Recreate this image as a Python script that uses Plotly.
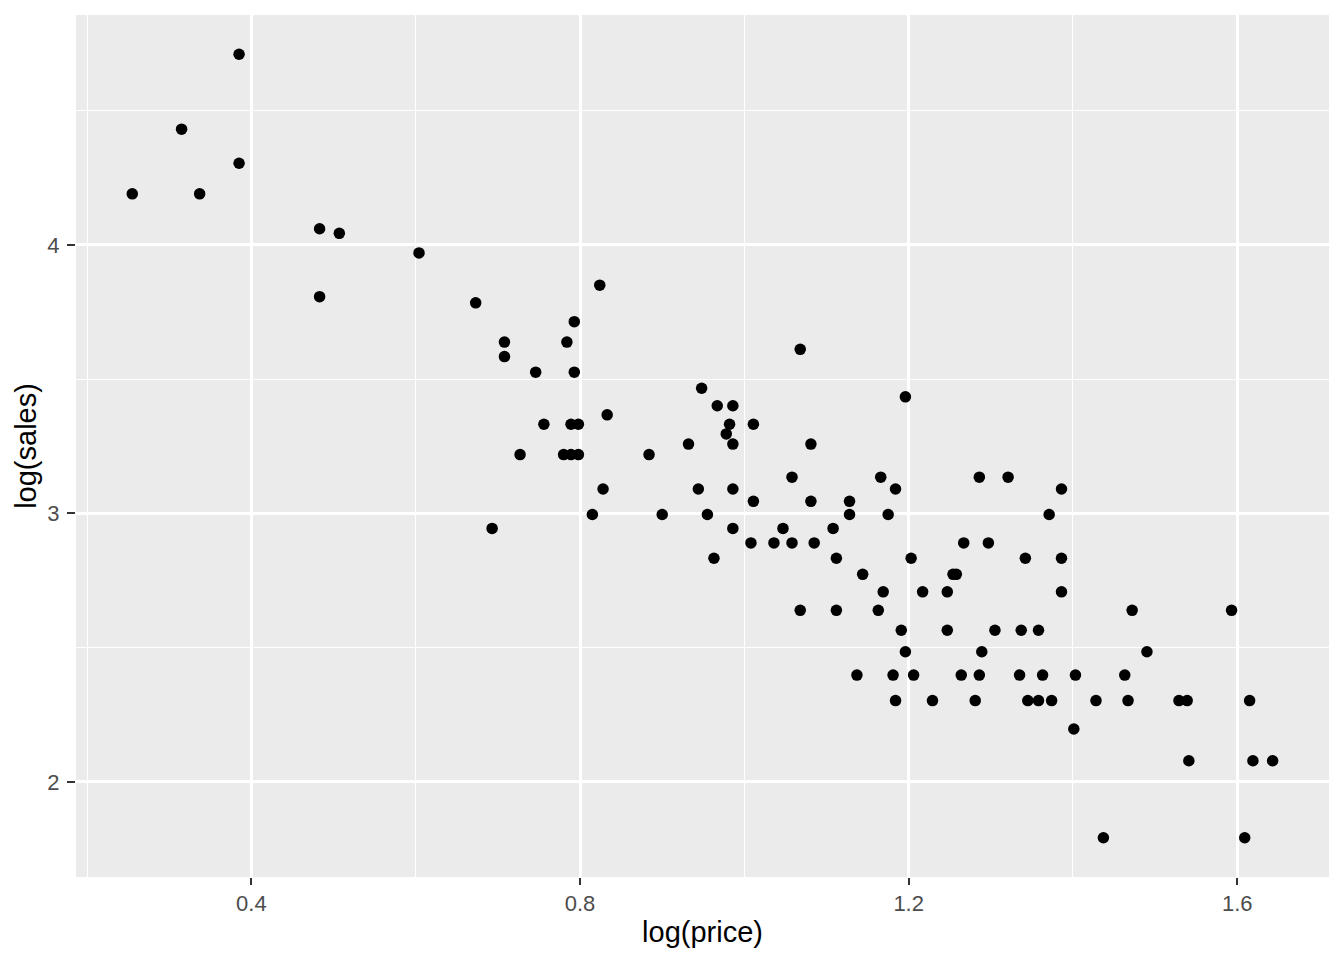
import plotly.graph_objects as go

# log(price) values
log_price = [
    0.255, 0.315, 0.337, 0.385, 0.385, 0.483, 0.483, 0.507, 0.604, 0.673,
    0.708, 0.708, 0.693, 0.727, 0.746, 0.756, 0.780, 0.784, 0.789, 0.789,
    0.793, 0.793, 0.798, 0.798, 0.815, 0.824, 0.828, 0.833, 0.884, 0.900,
    0.932, 0.944, 0.948, 0.955, 0.963, 0.967, 0.978, 0.982, 0.986, 0.986,
    0.986, 0.986, 1.008, 1.011, 1.011, 1.036, 1.047, 1.058, 1.058, 1.068,
    1.068, 1.081, 1.081, 1.085, 1.108, 1.112, 1.112, 1.128, 1.128, 1.137,
    1.144, 1.163, 1.166, 1.169, 1.175, 1.181, 1.184, 1.184, 1.191, 1.196,
    1.196, 1.203, 1.206, 1.217, 1.229, 1.247, 1.247, 1.254, 1.258, 1.264,
    1.267, 1.281, 1.286, 1.286, 1.289, 1.297, 1.305, 1.321, 1.335, 1.337,
    1.342, 1.345, 1.358, 1.358, 1.363, 1.371, 1.374, 1.386, 1.386, 1.386,
    1.401, 1.403, 1.428, 1.437, 1.463, 1.467, 1.472, 1.490, 1.529, 1.539,
    1.541, 1.593, 1.609, 1.615, 1.619, 1.643,
]

# log(sales) values
log_sales = [
    4.190, 4.431, 4.190, 4.710, 4.304, 4.060, 3.807, 4.043, 3.970, 3.784,
    3.638, 3.584, 2.944, 3.219, 3.526, 3.332, 3.219, 3.638, 3.219, 3.332,
    3.714, 3.526, 3.332, 3.219, 2.996, 3.850, 3.091, 3.367, 3.219, 2.996,
    3.258, 3.091, 3.466, 2.996, 2.833, 3.401, 3.296, 3.332, 3.401, 3.258,
    3.091, 2.944, 2.890, 3.332, 3.045, 2.890, 2.944, 3.135, 2.890, 3.611,
    2.639, 3.258, 3.045, 2.890, 2.944, 2.833, 2.639, 3.045, 2.996, 2.398,
    2.773, 2.639, 3.135, 2.708, 2.996, 2.398, 3.091, 2.303, 2.565, 3.434,
    2.485, 2.833, 2.398, 2.708, 2.303, 2.708, 2.565, 2.773, 2.773, 2.398,
    2.890, 2.303, 3.135, 2.398, 2.485, 2.890, 2.565, 3.135, 2.398, 2.565,
    2.833, 2.303, 2.565, 2.303, 2.398, 2.996, 2.303, 3.091, 2.833, 2.708,
    2.197, 2.398, 2.303, 1.792, 2.398, 2.303, 2.639, 2.485, 2.303, 2.303,
    2.079, 2.639, 1.792, 2.303, 2.079, 2.079,
]

x_major = [0.4, 0.8, 1.2, 1.6]
x_major_labels = ["0.4", "0.8", "1.2", "1.6"]
x_minor = [0.2, 0.6, 1.0, 1.4]
y_major = [2, 3, 4]
y_major_labels = ["2", "3", "4"]
y_minor = [2.5, 3.5, 4.5]

fig = go.Figure(
    go.Scatter(
        x=log_price,
        y=log_sales,
        mode="markers",
        marker=dict(color="black", size=11.5, line=dict(width=0)),
        hoverinfo="x+y",
    )
)

tick_font = dict(family="Liberation Sans, Arial, sans-serif", size=22, color="#4D4D4D")
title_font = dict(family="Liberation Sans, Arial, sans-serif", size=29, color="black")

fig.update_layout(
    width=1344,
    height=960,
    margin=dict(l=76, r=15, t=15, b=83),
    paper_bgcolor="white",
    plot_bgcolor="#EBEBEB",
    showlegend=False,
)

fig.update_xaxes(
    range=[0.1865, 1.7116],
    tickmode="array",
    tickvals=x_major,
    ticktext=x_major_labels,
    ticks="outside",
    ticklen=7,
    tickwidth=2,
    tickcolor="#333333",
    tickfont=tick_font,
    showgrid=True,
    gridcolor="white",
    gridwidth=2.6,
    zeroline=False,
    showline=False,
    minor=dict(tickvals=x_minor, showgrid=True, gridcolor="white", gridwidth=1.3, ticks=""),
    title=dict(text="log(price)", font=title_font, standoff=6),
    automargin=False,
)

fig.update_yaxes(
    range=[1.646, 4.856],
    tickmode="array",
    tickvals=y_major,
    ticktext=y_major_labels,
    ticks="outside",
    ticklen=8,
    tickwidth=2,
    tickcolor="#333333",
    tickfont=tick_font,
    ticklabelstandoff=3,
    showgrid=True,
    gridcolor="white",
    gridwidth=2.6,
    zeroline=False,
    showline=False,
    minor=dict(tickvals=y_minor, showgrid=True, gridcolor="white", gridwidth=1.3, ticks=""),
    title=dict(text="log(sales)", font=title_font, standoff=2),
    automargin=False,
)

fig.write_html(
    "out.html",
    config={"displayModeBar": False},
    post_script="document.body.style.margin='0';document.body.style.overflow='hidden';",
)
